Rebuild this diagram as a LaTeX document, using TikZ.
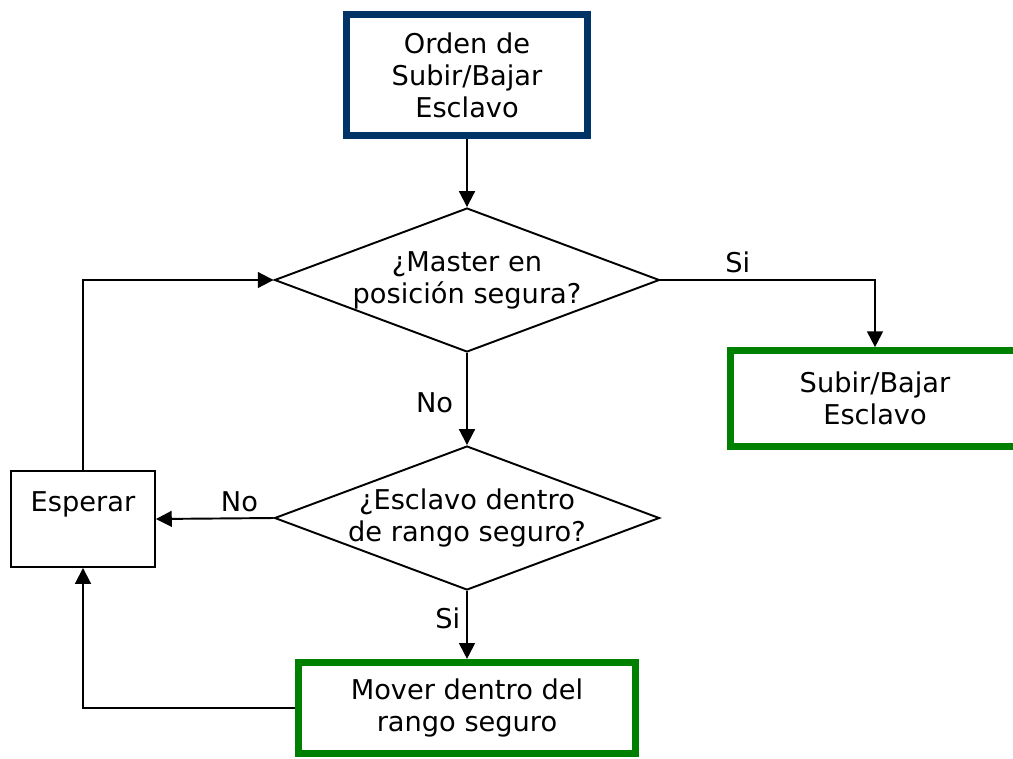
\documentclass[tikz,border=0pt]{standalone}
\usepackage{fontspec}
\setmainfont{DejaVu Sans}
\usetikzlibrary{shapes.geometric,arrows.meta}
\definecolor{ordenblue}{HTML}{003366}
\definecolor{boxgreen}{HTML}{008000}

\begin{document}
\begin{tikzpicture}[x=0.02cm, y=-0.02cm,
    font=\fontsize{15.5}{18.2}\selectfont,
    every node/.style={align=center},
    startbox/.style={rectangle, draw=ordenblue, line width=4.4pt, minimum width=4.82cm, minimum height=2.42cm},
    endbox/.style={rectangle, draw=boxgreen, line width=3.8pt},
    waitbox/.style={rectangle, draw=black, line width=1.1pt, minimum width=2.88cm, minimum height=1.92cm},
    decision/.style={diamond, draw=black, line width=1.1pt, aspect=2.67, inner sep=-0.15cm, minimum width=7.7cm, minimum height=2.88cm},
    flow/.style={line width=1.1pt, -{Triangle[length=9pt,width=9pt]}}]
    \useasboundingbox (0,0) rectangle (1013,758);
    % Draw boxes and decisions
    \node[startbox] (orden) at (467,75) {Orden de\\Subir/Bajar\\Esclavo};
    \node[decision] (master) at (467,280) {¿Master en\\posición segura?};
    \node[endbox, minimum width=5.78cm, minimum height=1.92cm] (subir) at (875,398.5) {Subir/Bajar\\Esclavo};
    \node[decision] (esclavo) at (467,518) {¿Esclavo dentro\\de rango seguro?};
    \node[waitbox, label={[anchor=north, yshift=-0.3cm]north:Esperar}] (esperar) at (83,519) {};
    \node[endbox, minimum width=6.74cm, minimum height=1.83cm] (mover) at (467,708) {Mover dentro del\\rango seguro};
    % Draw connectors
    \draw[flow] (orden) -- (master);
    \draw[flow] (master.east) -| node[pos=0.18, above] {Si} (subir.north);
    \draw[flow] (master.south) -- node[left, xshift=-4pt, yshift=-2pt] {No} (esclavo.north);
    \draw[flow] (esclavo.west) -- node[pos=0.29, above] {No} (esperar.east);
    \draw[flow] (esclavo.south) -- node[pos=0.4, left] {Si} (mover.north);
    \draw[flow] (mover.west) -| (esperar.south);
    \draw[flow] (esperar.north) |- (master.west);
\end{tikzpicture}
\end{document}
